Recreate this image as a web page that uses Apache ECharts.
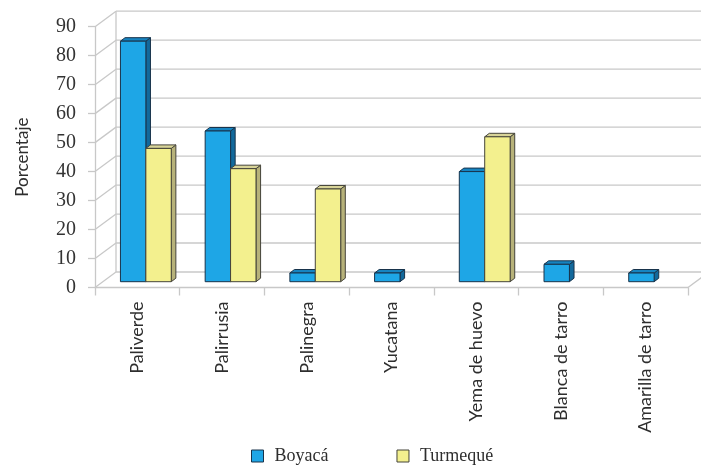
<!DOCTYPE html>
<html>
<head>
<meta charset="utf-8">
<script src="https://cdn.jsdelivr.net/npm/echarts@6/dist/echarts.min.js"></script>
<style>
  html, body { margin: 0; padding: 0; background: #fff; }
  #chart { width: 701px; height: 467px; }
</style>
</head>
<body>
<div id="chart"></div>
<script>
// Varieties surveyed and their share (%) in each locality
const categories = ['Paliverde', 'Palirrusia', 'Palinegra', 'Yucatana', 'Yema de huevo', 'Blanca de tarro', 'Amarilla de tarro'];
const boyaca = [83, 52, 3, 3, 38, 6, 3];
const turmeque = [46, 39, 32, 0, 50, 0, 0];
const yTicks = [0, 10, 20, 30, 40, 50, 60, 70, 80, 90];

// Pseudo-3D geometry (pixels): wall depth and bar placement inside it
const DX = 21, DY = -15.5;      // back wall offset from the front plane
const SX = 8.5, SY = -5.8;      // bar row offset from the front plane
const BDX = 4.6, BDY = -3.5;    // thickness of each bar

const BLUE = { front: '#1ea6e6', top: '#1684c0', side: '#12699c', stroke: '#18334b' };
const YELLOW = { front: '#f3f08e', top: '#d8d498', side: '#b7b27a', stroke: '#45443a' };
const GRID = '#c8c8c8';

const chart = echarts.init(document.getElementById('chart'), null, { renderer: 'canvas' });

function wallRenderer(params, api) {
  const v = api.value(1);
  const p = api.coord([0, v]);
  const band = api.size([1, 0])[0];
  const left = p[0] - band / 2;
  const right = left + band * categories.length;
  const style = { stroke: GRID, lineWidth: 1.3 };
  const children = [
    { type: 'line', shape: { x1: left, y1: p[1], x2: left + DX, y2: p[1] + DY }, style },
    { type: 'line', shape: { x1: left + DX, y1: p[1] + DY, x2: right + DX + 40, y2: p[1] + DY }, style }
  ];
  if (v === yTicks[0]) {
    const topP = api.coord([0, yTicks[yTicks.length - 1]]);
    children.push({ type: 'line', shape: { x1: left + DX, y1: p[1] + DY, x2: left + DX, y2: topP[1] + DY }, style });
    children.push({ type: 'line', shape: { x1: right, y1: p[1], x2: right + DX, y2: p[1] + DY }, style });
  }
  return { type: 'group', children };
}

function barRenderer(slot, c) {
  return function (params, api) {
    const idx = api.value(0);
    const v = api.value(1);
    if (!v) return;
    const base = api.coord([idx, 0]);
    const top = api.coord([idx, v]);
    const band = api.size([1, 0])[0];
    const w = band * 0.3;
    const x0 = base[0] + SX - w + slot * w;
    const y0 = base[1] + SY;
    const y1 = top[1] + SY;
    const st = { stroke: c.stroke, lineWidth: 1, lineJoin: 'round' };
    return {
      type: 'group',
      children: [
        { type: 'polygon', shape: { points: [[x0 + w, y1], [x0 + w + BDX, y1 + BDY], [x0 + w + BDX, y0 + BDY], [x0 + w, y0]] },
          style: Object.assign({ fill: c.side }, st) },
        { type: 'polygon', shape: { points: [[x0, y1], [x0 + BDX, y1 + BDY], [x0 + w + BDX, y1 + BDY], [x0 + w, y1]] },
          style: Object.assign({ fill: c.top }, st) },
        { type: 'rect', shape: { x: x0, y: y1, width: w, height: y0 - y1 },
          style: Object.assign({ fill: c.front }, st) }
      ]
    };
  };
}

const option = {
  animation: false,
  color: [BLUE.front, YELLOW.front],
  grid: { left: 95, right: 13, top: 26.7, bottom: 179.5, containLabel: false },
  xAxis: {
    type: 'category',
    data: categories,
    boundaryGap: true,
    axisLine: { show: true, lineStyle: { color: GRID, width: 1.3 } },
    axisTick: { show: true, length: 8, lineStyle: { color: GRID, width: 1.3 } },
    axisLabel: {
      rotate: 90, margin: 14, interval: 0,
      fontFamily: 'Lato', fontSize: 18, color: '#2e2e2e'
    },
    splitLine: { show: false }
  },
  yAxis: {
    type: 'value',
    min: 0, max: 90, interval: 10,
    name: 'Porcentaje',
    nameLocation: 'middle',
    nameGap: 64,
    nameTextStyle: { fontFamily: 'Lato', fontSize: 17, color: '#2e2e2e' },
    axisLine: { show: true, lineStyle: { color: GRID, width: 1.3 } },
    axisTick: { show: true, length: 7, lineStyle: { color: GRID, width: 1.3 } },
    axisLabel: { margin: 19, fontFamily: 'Liberation Serif', fontSize: 20, color: '#333' },
    splitLine: { show: false }
  },
  legend: {
    left: 246, top: 442,
    itemWidth: 12, itemHeight: 12, itemGap: 68,
    textStyle: { fontFamily: 'Liberation Serif', fontSize: 18, color: '#2e2e2e', padding: [0, 0, 0, 6] },
    data: [
      { name: 'Boyacá', icon: 'rect', itemStyle: { color: BLUE.front, borderColor: BLUE.stroke, borderWidth: 1 } },
      { name: 'Turmequé', icon: 'rect', itemStyle: { color: YELLOW.front, borderColor: YELLOW.stroke, borderWidth: 1 } }
    ]
  },
  series: [
    {
      type: 'custom', z: 1, silent: true,
      renderItem: wallRenderer,
      data: yTicks.map(v => [0, v])
    },
    {
      name: 'Boyacá', type: 'custom', z: 2,
      itemStyle: { color: BLUE.front },
      renderItem: barRenderer(0, BLUE),
      data: boyaca.map((v, i) => [i, v])
    },
    {
      name: 'Turmequé', type: 'custom', z: 3,
      itemStyle: { color: YELLOW.front },
      renderItem: barRenderer(1, YELLOW),
      data: turmeque.map((v, i) => [i, v])
    }
  ]
};

chart.setOption(option);
</script>
</body>
</html>
